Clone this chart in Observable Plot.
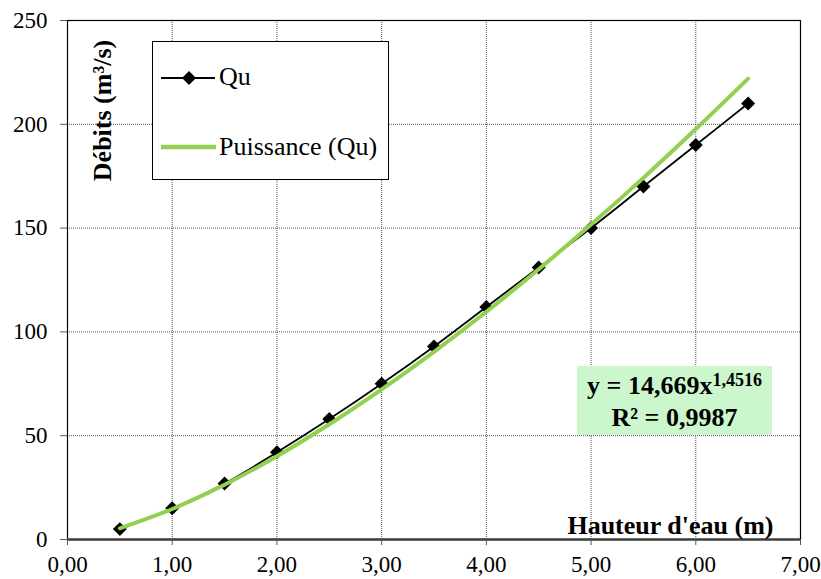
<!DOCTYPE html>
<html><head><meta charset="utf-8">
<script src="https://cdn.jsdelivr.net/npm/d3@7"></script>
<script src="https://cdn.jsdelivr.net/npm/@observablehq/plot@0.6"></script>
</head><body style="margin:0;background:#fff;font-family:'Liberation Serif'">
<div id="wrap" style="position:relative;width:821px;height:579px;font-family:'Liberation Serif'"></div>
<script>
const hauteur = [0.5,1,1.5,2,2.5,3,3.5,4,4.5,5,5.5,6,6.5];
const debitQu = [5,15,27,42,58,75,93,112,131,150,170,190,210];
const debitPuissance = [5.4,14.7,26.4,40.1,55.5,72.3,90.4,109.7,130.2,151.7,174.2,197.7,222.0];
const xTicks = [0,1,2,3,4,5,6,7];
const yTicks = [0,50,100,150,200,250];

const qu = hauteur.map((x,i)=>({x, y: debitQu[i]}));
const pu = hauteur.map((x,i)=>({x, y: debitPuissance[i]}));
const fmt = d => d3.format(".2f")(d).replace(".", ",");

const chart = Plot.plot({
  width: 821, height: 579,
  marginLeft: 67, marginRight: 21, marginTop: 20, marginBottom: 40,
  style: {fontFamily: "'Liberation Serif'", fontSize: "23px", color:"#000", background:"#fff"},
  x: {domain:[0,7], label: null},
  y: {domain:[0,250], label: null},
  marks: [
    Plot.gridX(xTicks, {stroke:"#555", strokeOpacity:1, strokeDasharray:"1,1", strokeWidth:1}),
    Plot.gridY(yTicks, {stroke:"#555", strokeOpacity:1, strokeDasharray:"1,1", strokeWidth:1}),
    Plot.frame({stroke:"#000", strokeWidth:1.2}),
    Plot.ruleY([0], {stroke:"#404040", strokeWidth:2.5}),
    Plot.axisX({ticks: xTicks, tickFormat: fmt, label:null, tickSize:6, tickPadding:10, fontSize:23, stroke:"#555"}),
    Plot.axisY({ticks: yTicks, label:null, tickSize:7, tickPadding:13, fontSize:23, stroke:"#555"}),
    Plot.line(qu, {x:"x", y:"y", stroke:"#000", strokeWidth:1.8, curve:"catmull-rom"}),
    Plot.dot(qu, {x:"x", y:"y", symbol:"diamond2", r:6.3, fill:"#000", stroke:"none"}),
    Plot.line(pu, {x:"x", y:"y", stroke:"#92d050", strokeWidth:4, curve:"catmull-rom"}),
    Plot.text(["Hauteur d'eau (m)"], {frameAnchor:"bottom-right", lineAnchor:"bottom", dx:-27, dy:-6, fontWeight:"bold", fontSize:26, textAnchor:"end"}),
    Plot.text(["Débits (m³/s)"], {frameAnchor:"top-left", lineAnchor:"middle", dx:35, dy:90, rotate:-90, textAnchor:"middle", fontWeight:"bold", fontSize:26})
  ]
});
const wrap = document.getElementById("wrap");
wrap.appendChild(chart);

const leg = document.createElement("div");
leg.setAttribute("style", "position:absolute;left:152px;top:41px;width:237px;height:139px;border:1.3px solid #000;background:#fff;box-sizing:border-box;");
leg.innerHTML = `
<svg width="237" height="139" style="position:absolute;left:0;top:0;font-family:'Liberation Serif'">
  <line x1="8" y1="36" x2="62" y2="36" stroke="#000" stroke-width="1.8"/>
  <path d="M36 29 L43 36 L36 43 L29 36 Z" fill="#000"/>
  <line x1="8" y1="105" x2="63" y2="105" stroke="#92d050" stroke-width="4.5"/>
  <text x="66" y="43" font-size="26" style="font-family:'Liberation Serif'">Qu</text>
  <text x="66" y="113" font-size="26" style="font-family:'Liberation Serif'">Puissance (Qu)</text>
</svg>`;
wrap.appendChild(leg);

const eq = document.createElement("div");
eq.setAttribute("style", "position:absolute;left:577px;top:366px;width:195px;height:69px;background:#ccf7cc;font-weight:bold;font-size:26px;text-align:center;line-height:30px;padding-top:5px;box-sizing:border-box;font-family:'Liberation Serif';white-space:nowrap");
eq.innerHTML = `<div>y = 14,669x<span style="font-size:18px;position:relative;top:-8px">1,4516</span></div><div>R² = 0,9987</div>`;
wrap.appendChild(eq);
</script>
</body></html>
